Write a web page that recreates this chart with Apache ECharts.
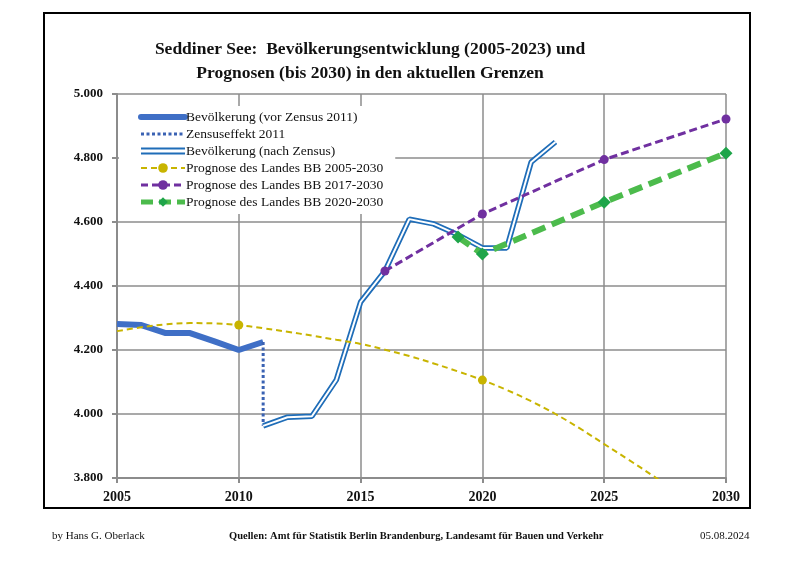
<!DOCTYPE html>
<html>
<head>
<meta charset="utf-8">
<script src="https://cdn.jsdelivr.net/npm/echarts@6/dist/echarts.min.js"></script>
<style>html,body{margin:0;padding:0;background:#fff}#c{width:800px;height:566px}</style>
</head>
<body>
<div id="c"></div>
<script>
// ---- data ----
var yearsBefore = [2005, 2006, 2007, 2008, 2009, 2010, 2011];
var popBefore   = [4281, 4278, 4253, 4253, 4227, 4200, 4225];

var censusYears = [2011, 2011];
var censusPop   = [4225, 3963];

var yearsAfter = [2011, 2012, 2013, 2014, 2015, 2016, 2017, 2018, 2019, 2020, 2021, 2022, 2023];
var popAfter   = [3963, 3990, 3993, 4106, 4350, 4447, 4609, 4594, 4560, 4519, 4519, 4787, 4850];

var yearsProg05 = [2005, 2006, 2007, 2008, 2009, 2010, 2011, 2012, 2013, 2014, 2015, 2016, 2017, 2018, 2019, 2020, 2021, 2022, 2023, 2024, 2025, 2026, 2027, 2028];
var popProg05   = [4259, 4271, 4280, 4284, 4283, 4278, 4268, 4257, 4245, 4232, 4219, 4201, 4181, 4158, 4133, 4106, 4075, 4040, 4000, 3955, 3906, 3857, 3807, 3755];
var markYearsProg05 = [2010, 2020];

var yearsProg17 = [2016, 2020, 2025, 2030];
var popProg17   = [4447, 4625, 4795, 4922];

var yearsProg20 = [2019, 2020, 2025, 2030];
var popProg20   = [4553, 4500, 4662, 4815];

var xTicks = [2005, 2010, 2015, 2020, 2025, 2030];
var yMin = 3800, yMax = 5000, yStep = 200;

var names = [
  'Bevölkerung (vor Zensus 2011)',
  'Zensuseffekt 2011',
  'Bevölkerung (nach Zensus)',
  'Prognose des Landes BB 2005-2030',
  'Prognose des Landes BB 2017-2030',
  'Prognose des Landes BB 2020-2030'
];
var titleText = 'Seddiner See:  Bevölkerungsentwicklung (2005-2023) und\nPrognosen (bis 2030) in den aktuellen Grenzen';
var footLeft = 'by Hans G. Oberlack';
var footMid = 'Quellen: Amt für Statistik Berlin Brandenburg, Landesamt für Bauen und Verkehr';
var footRight = '05.08.2024';

function zip(xs, ys) { return xs.map(function (x, i) { return [x, ys[i]]; }); }

var serif = '"Liberation Serif", "DejaVu Serif", serif';
var gridGray = '#8c8c8c';

var prog05Data = zip(yearsProg05, popProg05).map(function (p) {
  return markYearsProg05.indexOf(p[0]) >= 0 ? { value: p } : { value: p, symbol: 'none' };
});

var legendData = [
  { name: names[0], itemStyle: { opacity: 0 }, lineStyle: { width: 6, cap: 'round' } },
  { name: names[1], itemStyle: { opacity: 0 }, lineStyle: { width: 3, type: [3, 2.5] } },
  { name: names[2], icon: 'path://M0,0H44V7H0Z M0,2V5H44V2Z' },
  { name: names[3], lineStyle: { width: 2, type: [6, 4] } },
  { name: names[4], lineStyle: { width: 3, type: [7, 4] } },
  { name: names[5], lineStyle: { width: 5, type: [12, 6] } }
];

var chart = echarts.init(document.getElementById('c'), null, { renderer: 'canvas' });
chart.setOption({
  animation: false,
  backgroundColor: '#fff',
  title: {
    text: titleText,
    left: 365, top: 32, textAlign: 'center',
    textStyle: { fontFamily: serif, fontWeight: 'bold', fontSize: 17.5, lineHeight: 24, color: '#111' }
  },
  legend: {
    orient: 'vertical',
    left: 119, top: 106,
    itemWidth: 44, itemHeight: 12, itemGap: 3,
    backgroundColor: '#fff',
    padding: [4, 12, 5, 19],
    data: legendData,
    textStyle: { fontFamily: serif, fontSize: 13.5, lineHeight: 12, color: '#111', padding: [0, 0, 0, -4] }
  },
  grid: { left: 117, right: 74, top: 94, bottom: 88, containLabel: false },
  xAxis: {
    type: 'value', min: 2005, max: 2030, interval: 5,
    axisLine: { lineStyle: { color: gridGray, width: 2 } },
    axisTick: { show: true, length: 5, lineStyle: { color: gridGray, width: 2 } },
    splitLine: { show: true, lineStyle: { color: gridGray, width: 1.5 } },
    axisLabel: { margin: 12, fontFamily: serif, fontWeight: 'bold', fontSize: 14, color: '#111',
      formatter: function (v) { return xTicks.indexOf(v) >= 0 ? String(v) : ''; } }
  },
  yAxis: {
    type: 'value', min: yMin, max: yMax, interval: yStep,
    axisLine: { show: true, lineStyle: { color: gridGray, width: 2 } },
    axisTick: { show: true, length: 5, lineStyle: { color: gridGray, width: 2 } },
    splitLine: { show: true, lineStyle: { color: gridGray, width: 1.5 } },
    axisLabel: { margin: 14, fontFamily: serif, fontWeight: 'bold', fontSize: 13, color: '#111',
      formatter: function (v) { return (v / 1000).toFixed(3); } }
  },
  graphic: [
    { type: 'rect', shape: { x: 44, y: 13, width: 706, height: 495 }, style: { fill: 'none', stroke: '#000', lineWidth: 2 }, z: 100 },
    { type: 'text', left: 52, top: 531, style: { text: footLeft, font: '11px ' + serif, fill: '#111' } },
    { type: 'text', left: 229, top: 531, style: { text: footMid, font: 'bold 10.5px ' + serif, fill: '#111' } },
    { type: 'text', left: 700, top: 531, style: { text: footRight, font: '11px ' + serif, fill: '#111' } }
  ],
  series: [
    { name: names[0], type: 'line', data: zip(yearsBefore, popBefore), symbol: 'none', z: 3,
      itemStyle: { color: '#3f6fc6' }, lineStyle: { color: '#3f6fc6', width: 6 } },
    { name: names[1], type: 'line', data: zip(censusYears, censusPop), symbol: 'none', z: 3,
      itemStyle: { color: '#3a62b3' }, lineStyle: { color: '#3a62b3', width: 3, type: [3, 2.5] } },
    { name: names[2], type: 'line', data: zip(yearsAfter, popAfter), symbol: 'none', z: 3,
      itemStyle: { color: '#1f6db8' }, lineStyle: { color: '#1f6db8', width: 5.5 } },
    { name: '_inner', type: 'line', data: zip(yearsAfter, popAfter), symbol: 'none', z: 4,
      itemStyle: { color: '#fff' }, lineStyle: { color: '#fff', width: 2 } },
    { name: names[3], type: 'line', data: prog05Data, smooth: 0.4, symbol: 'circle', symbolSize: 9, z: 5,
      itemStyle: { color: '#c8b400' }, lineStyle: { color: '#c8b400', width: 2, type: [6, 4] } },
    { name: names[4], type: 'line', data: zip(yearsProg17, popProg17), symbol: 'circle', symbolSize: 9, z: 6,
      itemStyle: { color: '#7030a0' }, lineStyle: { color: '#7030a0', width: 3, type: [8, 4] } },
    { name: names[5], type: 'line', data: zip(yearsProg20, popProg20), symbol: 'diamond', symbolSize: 13, z: 7,
      itemStyle: { color: '#1fa54a' }, lineStyle: { color: '#4cbb4c', width: 6, type: [14, 7] } }
  ]
});
</script>
</body>
</html>
